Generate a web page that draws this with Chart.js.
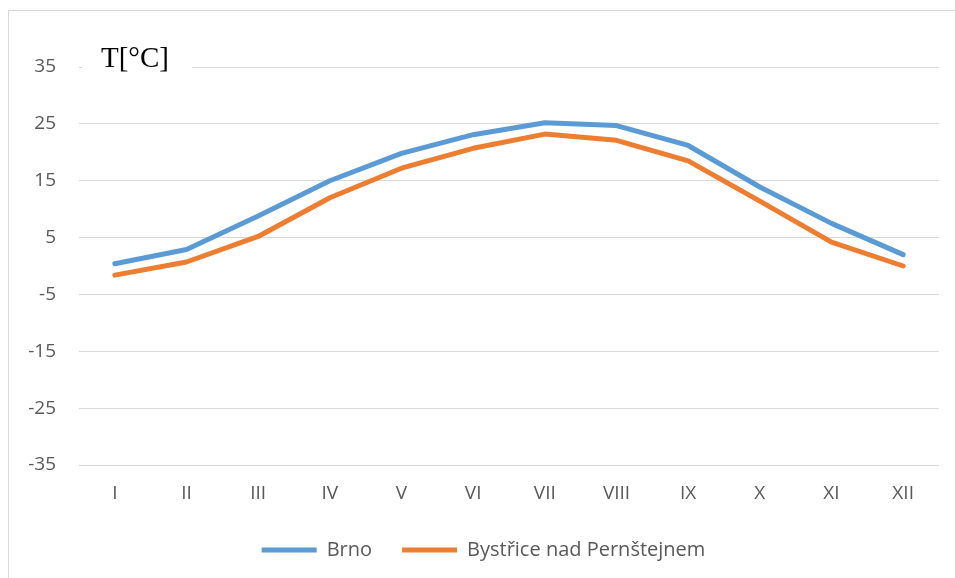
<!DOCTYPE html>
<html lang="cs">
<head>
  <meta charset="UTF-8">
  <title>Teploty Brno / Bystřice nad Pernštejnem</title>
  <script src="https://cdn.jsdelivr.net/npm/chart.js"></script>
  <style>
    body {
      margin: 0;
      background: #ffffff;
      overflow: hidden;
    }

    .frame {
      position: absolute;
      left: 8px;
      top: 10px;
      width: 970px;
      height: 600px;
      border: 1px solid #d9d9d9;
    }

    .chart-box {
      position: absolute;
      left: 0;
      top: 0;
      width: 955px;
      height: 578px;
    }
  </style>
</head>
<body>

  <div class="frame"></div>
  <div class="chart-box">
    <canvas id="tempChart" width="955" height="578"></canvas>
  </div>

  <script>
    const months = ["I", "II", "III", "IV", "V", "VI", "VII", "VIII", "IX", "X", "XI", "XII"];
    const brno = [0.4, 2.9, 8.8, 15.0, 19.8, 23.1, 25.2, 24.7, 21.2, 13.9, 7.5, 2.0];
    const bystrice = [-1.6, 0.7, 5.2, 12.0, 17.2, 20.7, 23.2, 22.1, 18.5, 11.4, 4.2, 0.0];
    const yTicks = [-35, -25, -15, -5, 5, 15, 25, 35];

    const tickFont = { family: '"Open Sans", "Noto Sans", sans-serif', size: 19 };
    const legendFont = { family: '"Open Sans", "Noto Sans", sans-serif', size: 20 };

    // popisek osy "T[°C]" na bílém podkladu přes horní mřížku
    const axisTitle = {
      id: 'axisTitle',
      afterDraw(chart) {
        const ctx = chart.ctx;
        ctx.save();
        ctx.fillStyle = '#ffffff';
        ctx.fillRect(82, 38, 110, 40);
        ctx.fillStyle = '#000000';
        ctx.font = '29px "Liberation Serif", "Times New Roman", serif';
        ctx.textBaseline = 'alphabetic';
        ctx.fillText('T[°C]', 101, 67);
        ctx.restore();
      }
    };

    // legenda je v originále trochu posunutá doprava
    const legendShift = {
      id: 'legendShift',
      afterLayout(chart) {
        chart.legend.left += 14;
        chart.legend.right += 14;
      }
    };

    new Chart(document.getElementById('tempChart'), {
      type: 'line',
      data: {
        labels: months,
        datasets: [{
          label: 'Brno',
          data: brno,
          borderColor: '#5b9bd5',
          backgroundColor: '#5b9bd5',
          borderWidth: 5,
          borderCapStyle: 'round',
          borderJoinStyle: 'round',
          pointRadius: 0,
          pointStyle: 'line',
          tension: 0,
          fill: false
        }, {
          label: 'Bystřice nad Pernštejnem',
          data: bystrice,
          borderColor: '#ed7d31',
          backgroundColor: '#ed7d31',
          borderWidth: 5,
          borderCapStyle: 'round',
          borderJoinStyle: 'round',
          pointRadius: 0,
          pointStyle: 'line',
          tension: 0,
          fill: false
        }]
      },
      options: {
        responsive: false,
        animation: false,
        layout: {
          padding: { left: 0, right: 16, top: 67, bottom: 8 }
        },
        plugins: {
          legend: {
            position: 'bottom',
            labels: {
              color: '#595959',
              font: legendFont,
              usePointStyle: true,
              pointStyle: 'line',
              pointStyleWidth: 55,
              boxHeight: 5,
              padding: 30
            }
          },
          tooltip: { enabled: false }
        },
        scales: {
          x: {
            offset: true,
            grid: { display: false, drawTicks: false },
            border: { display: false },
            ticks: {
              color: '#595959',
              font: tickFont,
              padding: 17
            },
            afterFit: (scale) => { scale.height = 45; }
          },
          y: {
            min: -35,
            max: 35,
            grid: { color: '#d9d9d9', lineWidth: 1, drawTicks: false },
            border: { display: false },
            afterBuildTicks: (scale) => {
              scale.ticks = yTicks.map(v => ({ value: v }));
            },
            ticks: {
              color: '#595959',
              font: tickFont,
              padding: 23
            },
            afterFit: (scale) => { scale.width = 79; }
          }
        }
      },
      plugins: [axisTitle, legendShift]
    });
  </script>

</body>
</html>
